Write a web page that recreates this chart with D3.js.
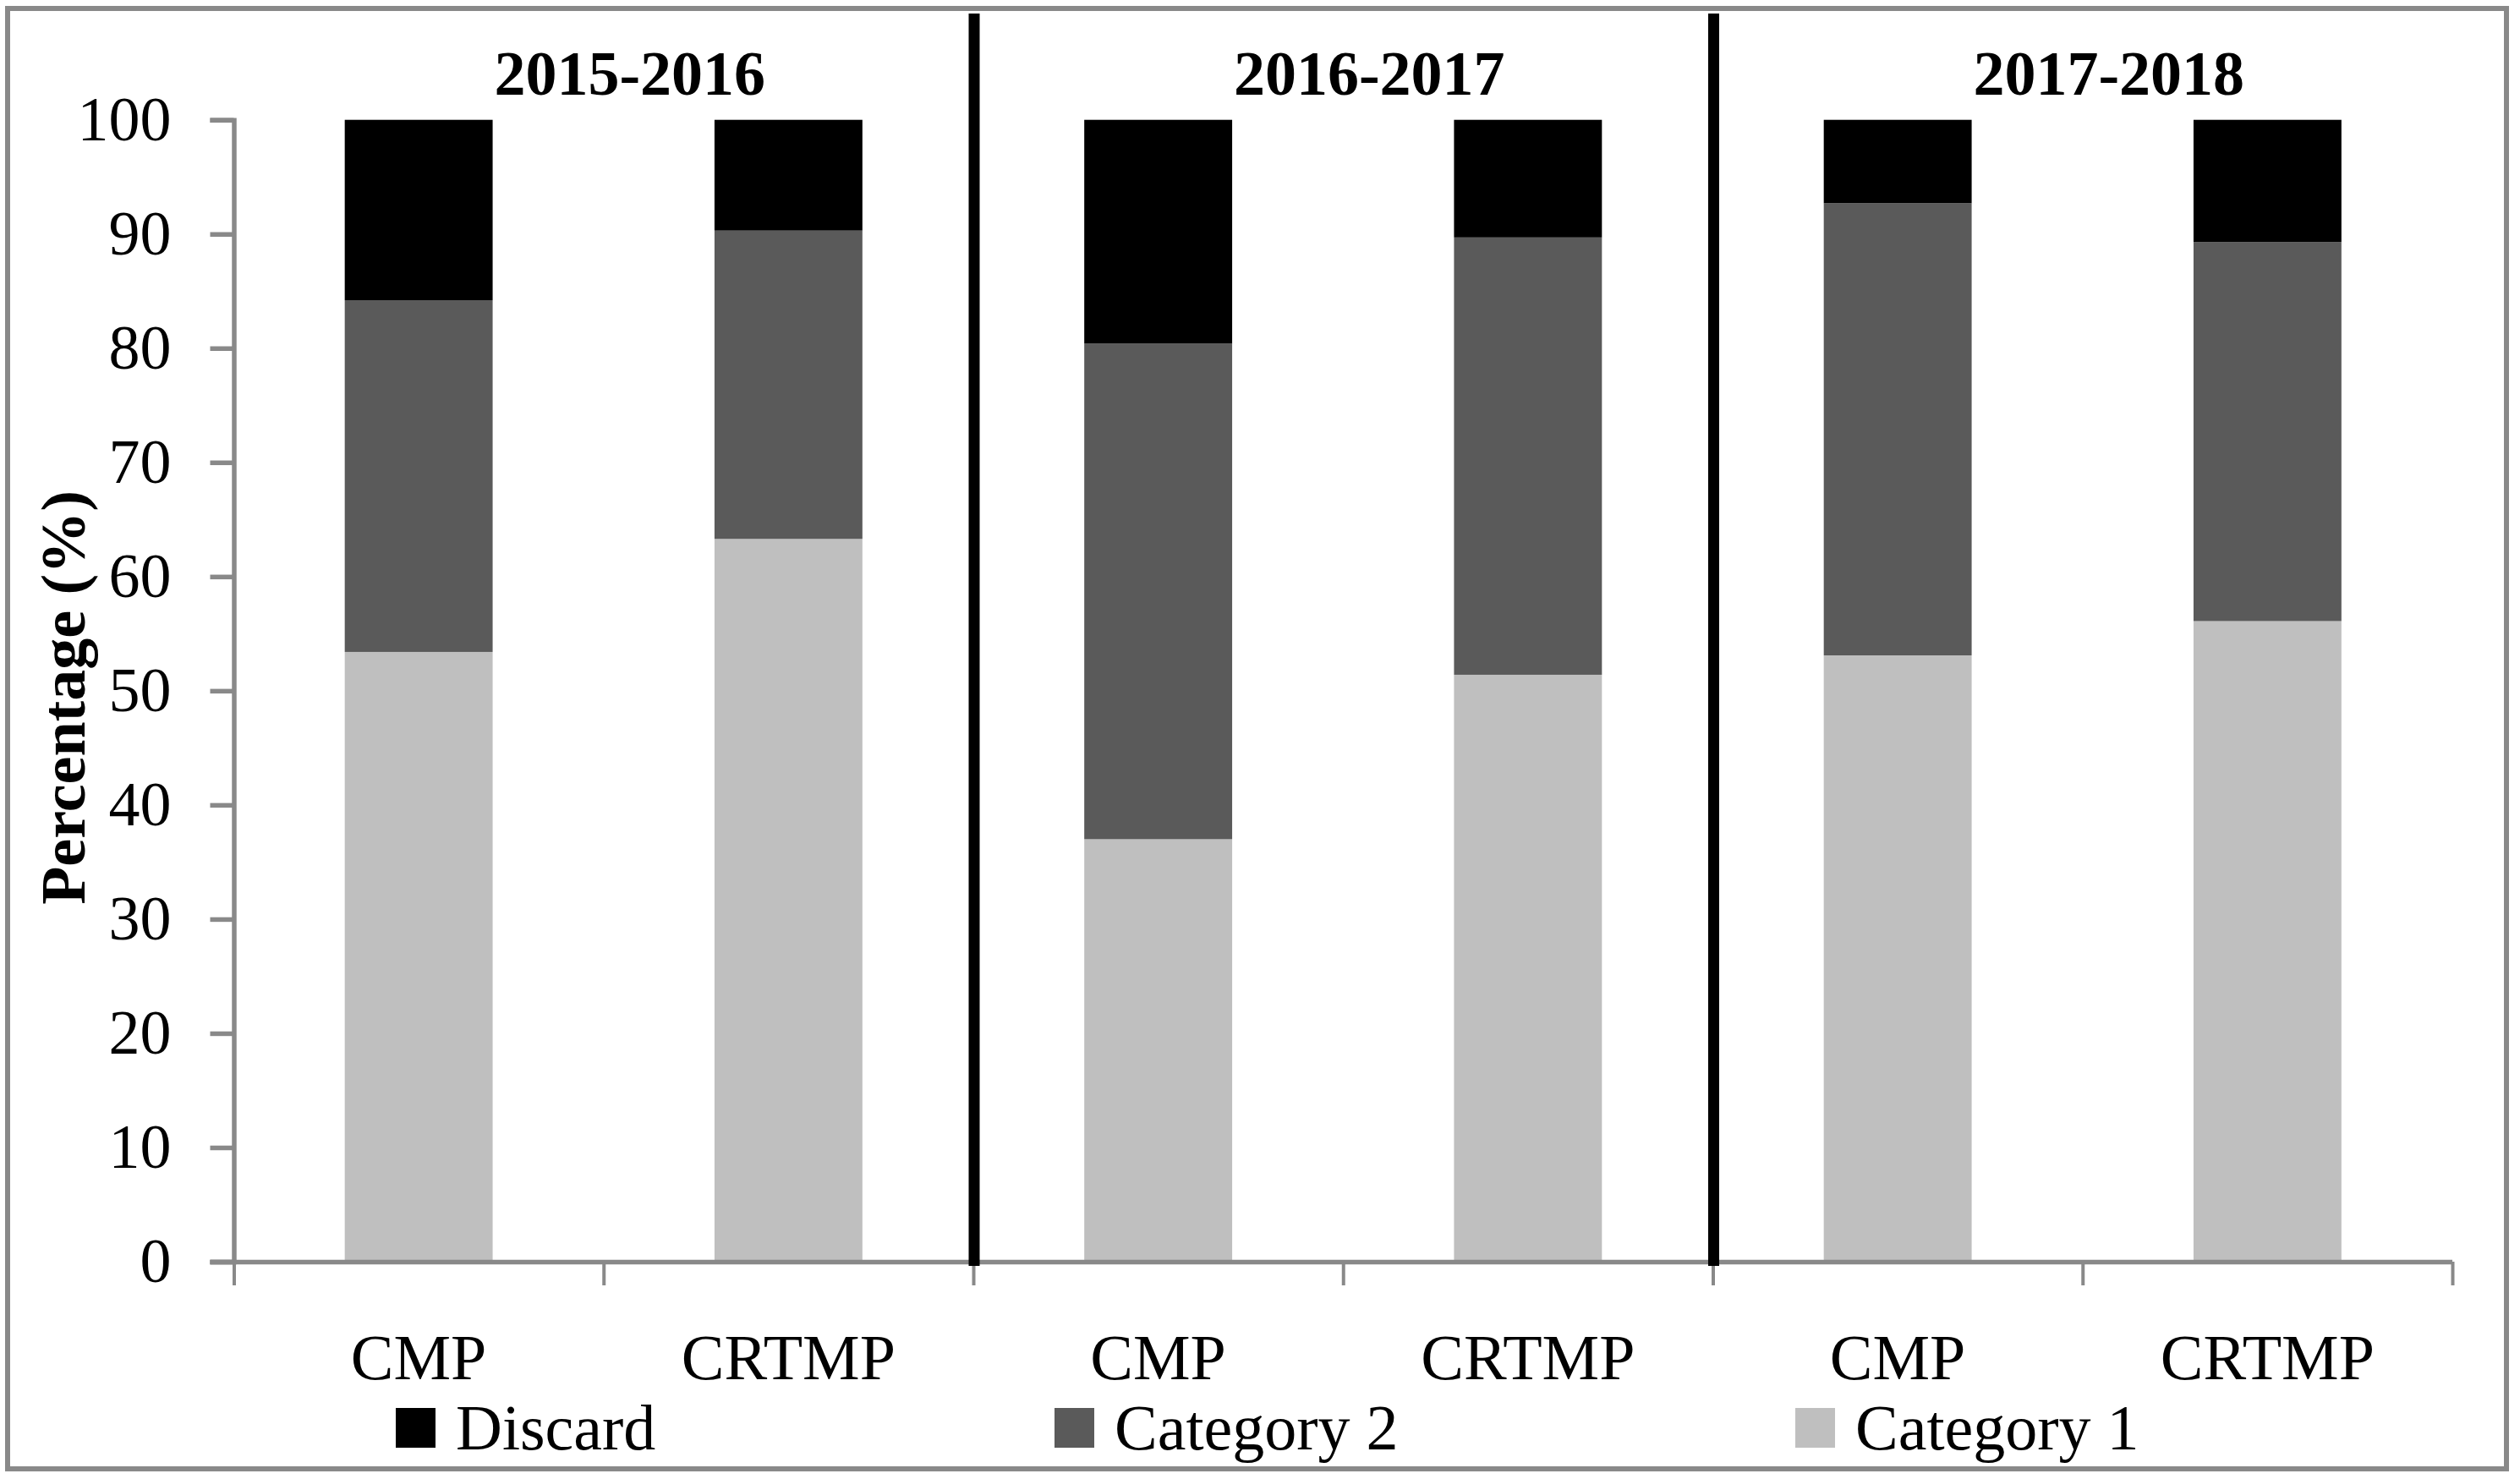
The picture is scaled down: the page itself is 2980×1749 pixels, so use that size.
<!DOCTYPE html>
<html>
<head>
<meta charset="utf-8">
<script src="https://cdn.jsdelivr.net/npm/d3@7"></script>
<style>
  body { margin: 0; background: #fff; }
  svg text { font-family: "Liberation Serif", "Times New Roman", serif; }
</style>
</head>
<body>
<svg id="chart" width="2980" height="1749"></svg>
<script>
// chart data
const periods = ["2015-2016", "2016-2017", "2017-2018"];
const categories = ["CMP", "CRTMP", "CMP", "CRTMP", "CMP", "CRTMP"];
const category1 = [53.4, 63.3, 37.0, 51.4, 53.1, 56.1];
const category2 = [30.8, 27.0, 43.4, 38.3, 39.6, 33.2];
const discard = [15.8, 9.7, 19.6, 10.3, 7.3, 10.7];
const yTicks = [0, 10, 20, 30, 40, 50, 60, 70, 80, 90, 100];
const seriesNames = ["Discard", "Category 2", "Category 1"];

const colors = { "Category 1": "#bfbfbf", "Category 2": "#5a5a5a", "Discard": "#000000" };
const axisGray = "#898989";

const svg = d3.select("#chart");

// outer frame
svg.append("rect")
    .attr("x", 9).attr("y", 10)
    .attr("width", 2955).attr("height", 1727)
    .attr("fill", "#fff")
    .attr("stroke", axisGray)
    .attr("stroke-width", 6);

const plotLeft = 276.5, plotRight = 2900, plotTop = 141.7, plotBottom = 1492;

const y = d3.scaleLinear().domain([0, 100]).range([plotBottom, plotTop]);
const xBand = d3.scaleBand()
    .domain(d3.range(categories.length))
    .range([plotLeft, plotRight])
    .paddingInner(0.6)
    .paddingOuter(0.3);
const xEdge = d3.scaleLinear().domain([0, categories.length]).range([plotLeft, plotRight]);

// stacked bars
const rows = categories.map((c, i) => ({
    idx: i,
    "Category 1": category1[i],
    "Category 2": category2[i],
    "Discard": discard[i]
}));
const stack = d3.stack().keys(["Category 1", "Category 2", "Discard"]);
const layers = stack(rows);

svg.append("g").selectAll("g")
    .data(layers)
    .join("g")
    .attr("fill", d => colors[d.key])
    .selectAll("rect")
    .data(d => d)
    .join("rect")
    .attr("x", d => xBand(d.data.idx))
    .attr("width", xBand.bandwidth())
    .attr("y", d => y(d[1]))
    .attr("height", d => y(d[0]) - y(d[1]));

// y axis
const yAxis = svg.append("g")
    .attr("transform", `translate(${plotLeft},0)`)
    .call(d3.axisLeft(y).tickValues(yTicks).tickSize(28).tickPadding(46));
yAxis.select(".domain").attr("stroke", axisGray).attr("stroke-width", 5.5);
yAxis.selectAll(".tick line").attr("stroke", axisGray).attr("stroke-width", 5.5);
yAxis.selectAll(".tick text").attr("font-size", 74).attr("fill", "#000")
    .style("font-family", "'Liberation Serif', serif");

// x axis: ticks between categories
const xAxis = svg.append("g")
    .attr("transform", `translate(0,${plotBottom})`)
    .call(d3.axisBottom(xEdge).tickValues(d3.range(categories.length + 1))
        .tickSize(28).tickSizeOuter(0).tickFormat(""));
xAxis.select(".domain").attr("stroke", axisGray).attr("stroke-width", 5.5)
    .attr("d", `M${plotLeft - 28},0.5H${plotRight}`);
xAxis.selectAll(".tick line").attr("stroke", axisGray).attr("stroke-width", 4);

// category labels
svg.append("g").selectAll("text")
    .data(categories)
    .join("text")
    .attr("x", (d, i) => xBand(i) + xBand.bandwidth() / 2)
    .attr("y", 1631)
    .attr("text-anchor", "middle")
    .attr("font-size", 76)
    .text(d => d);

// period separators
const perGroup = categories.length / periods.length;
svg.append("g").selectAll("line")
    .data(d3.range(1, periods.length))
    .join("line")
    .attr("x1", d => xEdge(d * perGroup) + 1)
    .attr("x2", d => xEdge(d * perGroup) + 1)
    .attr("y1", 16)
    .attr("y2", 1497)
    .attr("stroke", "#000")
    .attr("stroke-width", 13);

// period titles
svg.append("g").selectAll("text")
    .data(periods)
    .join("text")
    .attr("x", (d, i) => xEdge(i * perGroup + perGroup / 2) + 31)
    .attr("y", 112)
    .attr("text-anchor", "middle")
    .attr("font-size", 74)
    .attr("font-weight", "bold")
    .text(d => d);

// y axis title
svg.append("text")
    .attr("transform", "translate(100,825) rotate(-90)")
    .attr("text-anchor", "middle")
    .attr("font-size", 74)
    .attr("font-weight", "bold")
    .text("Percentage (%)");

// legend
const legendX = [468, 1247, 2123];
const legend = svg.append("g").selectAll("g")
    .data(seriesNames)
    .join("g")
    .attr("transform", (d, i) => `translate(${legendX[i]},1665)`);
legend.append("rect")
    .attr("width", 47).attr("height", 47)
    .attr("fill", d => colors[d]);
legend.append("text")
    .attr("x", 71).attr("y", 49)
    .attr("font-size", 76)
    .text(d => d);
</script>
</body>
</html>
